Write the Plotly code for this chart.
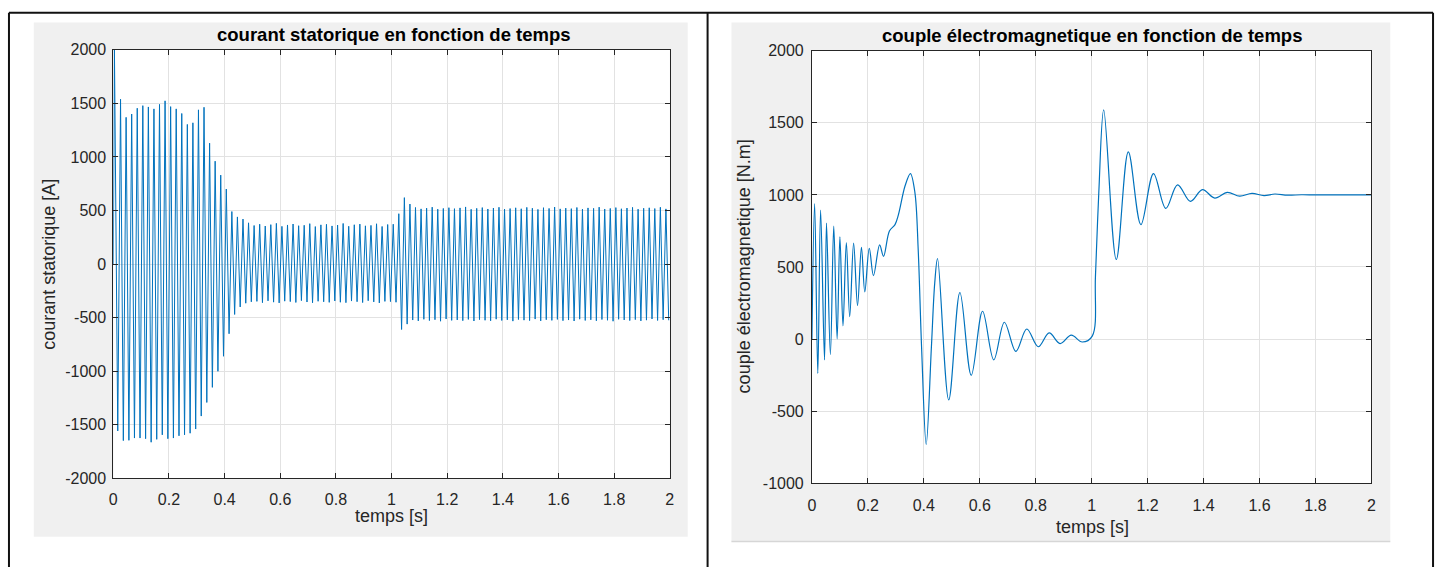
import plotly.graph_objects as go
from plotly.subplots import make_subplots

W, H = 1444, 567

# ---- stator current: successive minima / maxima of each 50 Hz cycle [A] ----
current_start_t = [0.0, 0.004]
current_start_v = [0, 2000]
current_troughs = [
    -1557, -1647, -1644, -1623, -1623, -1629, -1662, -1635, -1593, -1629,
    -1623, -1602, -1593, -1578, -1539, -1418, -1291, -1150, -1000, -860,
    -650, -470, -400,
    -365, -352, -348, -360, -343, -355, -362, -346, -350, -358,
    -341, -354, -361, -347, -352, -357, -344, -356, -360, -345,
    -351, -359, -342, -353, -362, -348, -350, -356,
    -610, -560,
    -522, -530, -515, -527, -519, -533, -512, -525, -521, -528,
    -516, -531, -518, -524, -529, -514, -526, -520, -532, -517,
    -523, -527, -513, -530, -519, -525, -516, -528, -522, -531,
    -514, -526, -520, -529, -517, -524, -533, -515, -521, -527,
    -518, -530, -523, -512, -526, -519, -524,
]
current_peaks = [
    1538, 1369, 1400, 1454, 1478, 1466, 1448, 1490, 1523, 1469,
    1448, 1405, 1303, 1318, 1439, 1463, 1128, 960, 830, 700,
    490, 440,
    420, 385, 360, 372, 355, 368, 380, 352, 365, 374,
    358, 362, 377, 350, 366, 371, 356, 364, 379, 353,
    367, 373, 357, 361, 376, 351, 369, 372,
    470, 620, 560,
    528, 515, 522, 531, 512, 519, 526, 517, 524, 533,
    511, 520, 527, 514, 523, 530, 513, 518, 525, 516,
    529, 521, 510, 526, 519, 532, 515, 522, 517, 528,
    513, 524, 520, 531, 514, 519, 527, 516, 523, 529,
    512, 521, 525, 518, 530, 515,
]
first_trough_t = 0.016   # s
half_period = 0.01       # s (50 Hz supply)

# ---- electromagnetic torque [N.m] ----
torque_t = [
    0.0, 0.0096, 0.021, 0.031, 0.045, 0.052, 0.066, 0.078, 0.090, 0.100,
    0.111, 0.123, 0.135, 0.149, 0.163, 0.177, 0.189, 0.205, 0.220, 0.242,
    0.256, 0.277, 0.297, 0.309, 0.333, 0.352, 0.368, 0.380, 0.392, 0.4085,
    0.427, 0.439, 0.449, 0.489, 0.529, 0.5695, 0.610, 0.650, 0.688, 0.729,
    0.768, 0.809, 0.848, 0.887, 0.927, 0.966, 1.002, 1.0135, 1.0255, 1.043,
    1.088, 1.131, 1.176, 1.221, 1.265, 1.307, 1.353, 1.396, 1.440, 1.485,
    1.529, 1.573, 1.616, 1.655, 1.700, 1.750, 1.800, 1.900, 2.000,
]
torque_v = [
    0, 939, -238, 895, -144, 805, -107, 783, 2, 709,
    92, 670, 155, 666, 233, 637, 327, 630, 440, 653,
    574, 749, 794, 861, 1063, 1148, 1018, 614, -58, -731,
    -58, 390, 559, -421, 323, -251, 193, -144, 117, -85,
    70, -53, 43, -31, 27, -20, 21, 435, 1018, 1590,
    552, 1298, 794, 1148, 906, 1070, 955, 1036, 978, 1018,
    991, 1011, 995, 1006, 998, 1001, 1000, 1000, 1000,
]

x_ticks = [0, 0.2, 0.4, 0.6, 0.8, 1, 1.2, 1.4, 1.6, 1.8, 2]
current_ticks = [-2000, -1500, -1000, -500, 0, 500, 1000, 1500, 2000]
torque_ticks = [-1000, -500, 0, 500, 1000, 1500, 2000]

# build the current trace: trough, peak, trough, peak, ...
cur_t = list(current_start_t)
cur_v = list(current_start_v)
for i, tv in enumerate(current_troughs):
    cur_t.append(first_trough_t + 2 * i * half_period)
    cur_v.append(tv)
    if i < len(current_peaks):
        cur_t.append(first_trough_t + (2 * i + 1) * half_period)
        cur_v.append(current_peaks[i])

BLUE = "#0072BD"
AX = "#262626"
FONT = "Liberation Sans, Arial, sans-serif"


def px_x(p):
    """page x pixel -> paper fraction"""
    return p / W


def px_y(p):
    """page y pixel -> paper fraction"""
    return 1 - p / H


fig = make_subplots(rows=1, cols=2)
fig.add_trace(go.Scatter(x=cur_t, y=cur_v, mode="lines",
                         line=dict(color=BLUE, width=1), showlegend=False),
              row=1, col=1)
fig.add_trace(go.Scatter(x=torque_t, y=torque_v, mode="lines",
                         line=dict(color=BLUE, width=1.2, shape="spline", smoothing=1.0),
                         showlegend=False),
              row=1, col=2)

axis_style = dict(showline=True, linecolor=AX, linewidth=1, mirror="ticks",
                  ticks="inside", ticklen=5, tickcolor=AX, tickwidth=1,
                  showgrid=True, gridcolor="#e2e2e2", gridwidth=1, zeroline=False,
                  tickfont=dict(family=FONT, size=16, color=AX))

fig.update_layout(
    width=W, height=H, margin=dict(l=0, r=0, t=0, b=0),
    paper_bgcolor="white", plot_bgcolor="white", showlegend=False,
    xaxis=dict(domain=[px_x(110), px_x(670)], range=[0, 2], tickvals=x_ticks,
               ticklabelstandoff=6, **axis_style),
    yaxis=dict(domain=[px_y(485), px_y(43)], range=[-2000, 2000],
               tickvals=current_ticks, ticktext=[str(v) for v in current_ticks],
               ticklabelstandoff=3, **axis_style),
    xaxis2=dict(domain=[px_x(813), px_x(1376)], range=[0, 2], tickvals=x_ticks,
                ticklabelstandoff=7, **axis_style),
    yaxis2=dict(domain=[px_y(490), px_y(44)], range=[-1000, 2000],
                tickvals=torque_ticks, ticktext=[str(v) for v in torque_ticks],
                ticklabelstandoff=4, **axis_style),
)

shapes = [
    # grey figure panels
    dict(type="rect", xref="paper", yref="paper", layer="below",
         x0=px_x(30), x1=px_x(688), y0=px_y(545), y1=px_y(15),
         fillcolor="#f0f0f0", line=dict(width=0)),
    dict(type="rect", xref="paper", yref="paper", layer="below",
         x0=px_x(732), x1=px_x(1395), y0=px_y(550), y1=px_y(15),
         fillcolor="#f0f0f0", line=dict(width=0)),
    dict(type="line", xref="paper", yref="paper", layer="below",
         x0=px_x(732), x1=px_x(1395), y0=px_y(550), y1=px_y(550),
         line=dict(color="#d6d6d6", width=1.5)),
    # white axes backgrounds
    dict(type="rect", xref="paper", yref="paper", layer="below",
         x0=px_x(110), x1=px_x(670), y0=px_y(485), y1=px_y(43),
         fillcolor="white", line=dict(width=0)),
    dict(type="rect", xref="paper", yref="paper", layer="below",
         x0=px_x(813), x1=px_x(1376), y0=px_y(490), y1=px_y(44),
         fillcolor="white", line=dict(width=0)),
]
# black table frame
for x0, y0, x1, y1 in [(5, 5, 1438, 5), (5, 5, 5, 580), (708, 5, 708, 580), (1438, 5, 1438, 580)]:
    shapes.append(dict(type="line", xref="paper", yref="paper",
                       x0=px_x(x0), x1=px_x(x1), y0=px_y(y0), y1=px_y(y1),
                       line=dict(color="#111111", width=2)))
fig.update_layout(shapes=shapes)

annotations = [
    dict(text="<b>courant statorique en fonction de temps</b>", x=px_x(392), y=px_y(27),
         font=dict(family=FONT, size=18.5, color="#000000")),
    dict(text="<b>couple électromagnetique en fonction de temps</b>", x=px_x(1095), y=px_y(28),
         font=dict(family=FONT, size=18.5, color="#000000")),
    dict(text="temps [s]", x=px_x(390), y=px_y(524),
         font=dict(family=FONT, size=18, color=AX)),
    dict(text="temps [s]", x=px_x(1095), y=px_y(535),
         font=dict(family=FONT, size=18, color=AX)),
    dict(text="courant statorique [A]", x=px_x(45), y=px_y(264), textangle=-90,
         font=dict(family=FONT, size=18, color=AX)),
    dict(text="couple électromagnetique [N.m]", x=px_x(745), y=px_y(266), textangle=-90,
         font=dict(family=FONT, size=18, color=AX)),
]
for a in annotations:
    a.update(xref="paper", yref="paper", showarrow=False, xanchor="center", yanchor="middle")
fig.update_layout(annotations=annotations)

fig.write_html("out.html")
